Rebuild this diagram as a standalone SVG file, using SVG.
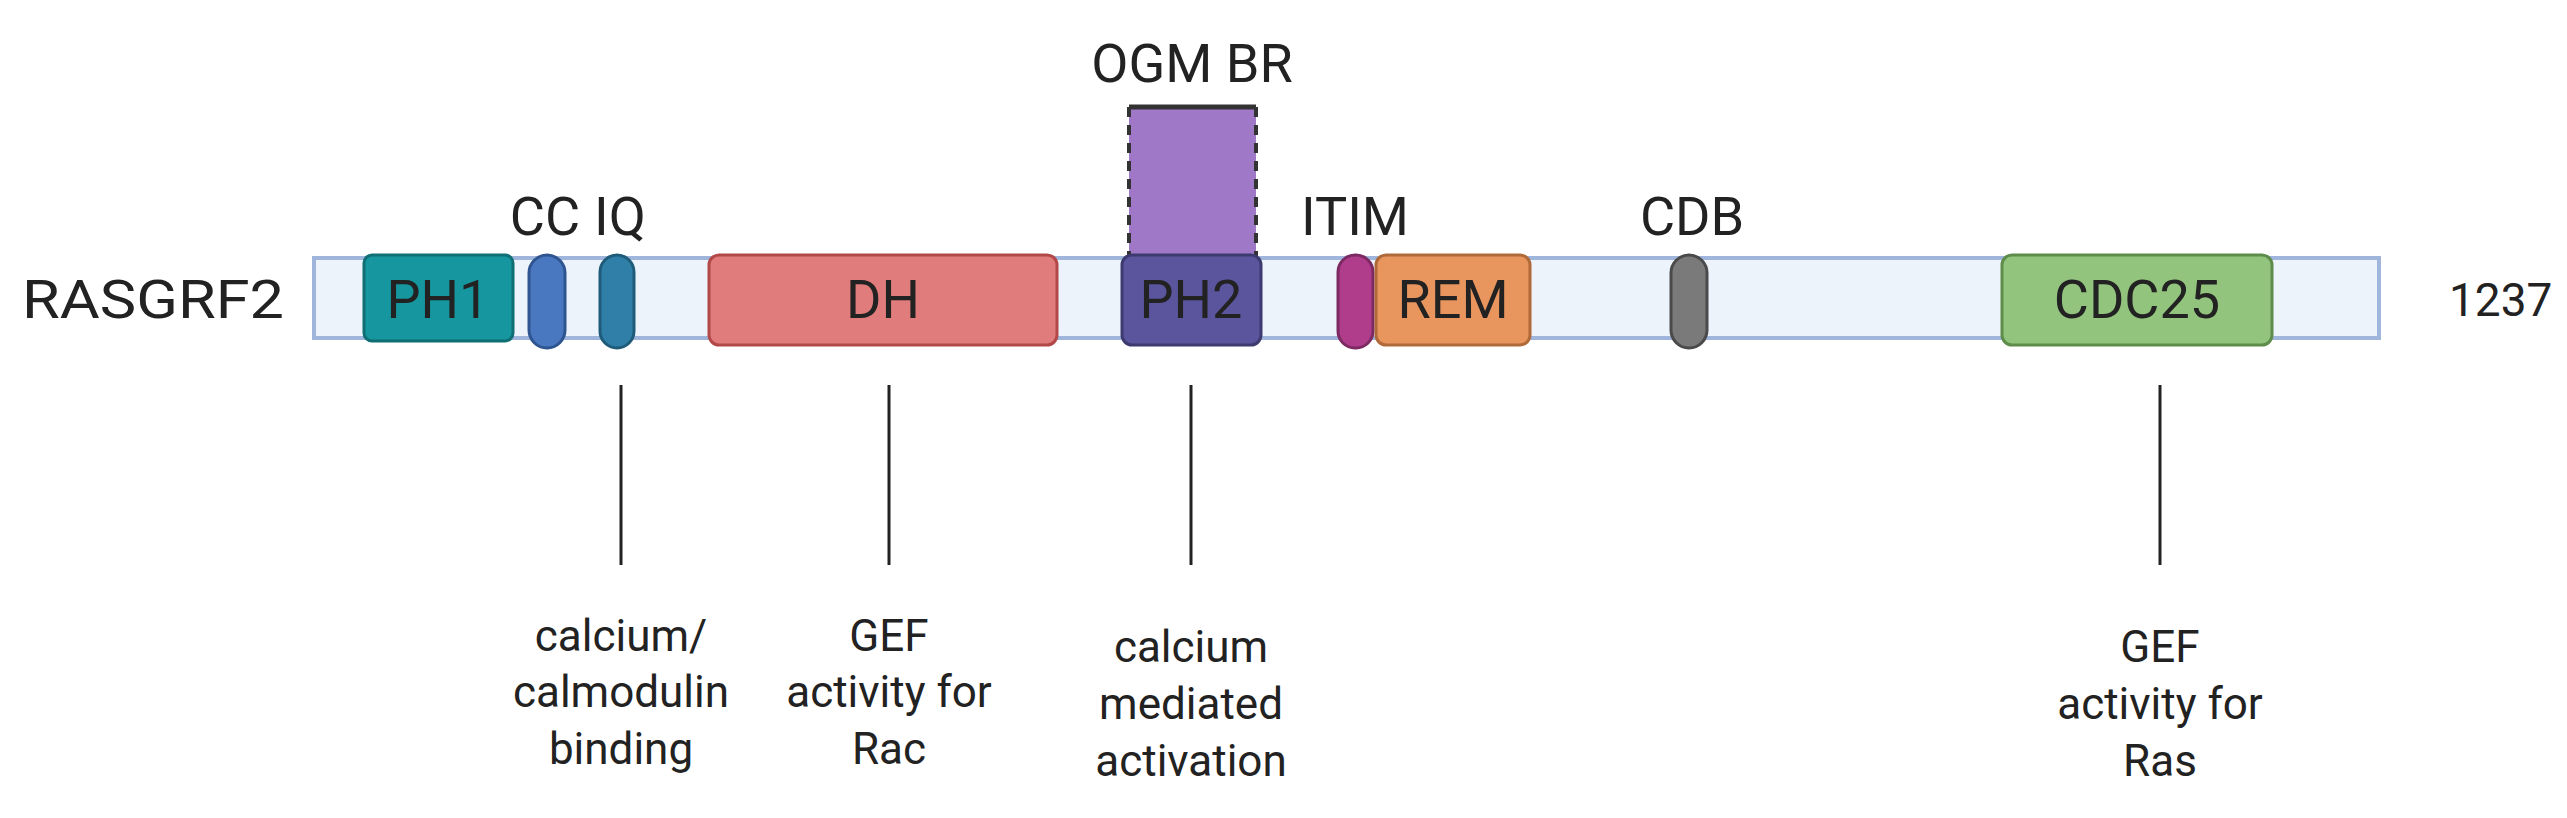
<svg xmlns="http://www.w3.org/2000/svg" width="2567" height="818" viewBox="0 0 2567 818">
<style>
text{font-family:Roboto,"Liberation Sans",sans-serif;font-size:44px;fill:#222}
.c{text-anchor:middle}
.b{font-size:54px}
.d{stroke-width:3}
.ln{stroke:#222;stroke-width:3}
</style>
<rect width="2567" height="818" fill="#fff"/>
<g id="backbone"><rect x="314" y="258" width="2065" height="80" fill="#edf3fb" stroke="#9fb5dc" stroke-width="4"/></g>
<text class="b" x="22" y="318" textLength="262" lengthAdjust="spacingAndGlyphs">RASGRF2</text>
<text x="2449" y="316" style="font-size:46px">1237</text>
<g id="ogmbr"><rect x="1129" y="107" width="127" height="150" fill="#a078c8"/>
<line x1="1129" y1="107" x2="1256" y2="107" stroke="#333" stroke-width="5"/>
<line x1="1129" y1="107" x2="1129" y2="257" stroke="#333" stroke-width="4" stroke-dasharray="10,8"/>
<line x1="1256" y1="107" x2="1256" y2="257" stroke="#333" stroke-width="4" stroke-dasharray="10,8"/>
<text class="c b" x="1192" y="82">OGM BR</text></g>
<g id="ph1"><rect x="364" y="255" width="149" height="86" rx="8" fill="#16979f" stroke="#0f6f75" class="d"/><text class="c b" x="438" y="318">PH1</text></g>
<g id="cc"><rect x="529" y="255" width="36" height="93" rx="18" fill="#4a78c0" stroke="#2f5590" class="d"/><text class="c b" x="545" y="235">CC</text></g>
<g id="iq"><rect x="600" y="255" width="34" height="93" rx="17" fill="#2f7fa8" stroke="#1f5c7a" class="d"/><text class="c b" x="620" y="235">IQ</text></g>
<g id="dh"><rect x="709" y="255" width="348" height="90" rx="10" fill="#e07c7c" stroke="#b24848" class="d"/><text class="c b" x="883" y="318">DH</text></g>
<g id="ph2"><rect x="1122" y="255" width="139" height="90" rx="10" fill="#5a559c" stroke="#3d3a70" class="d"/><text class="c b" x="1191" y="318">PH2</text></g>
<g id="itim"><rect x="1338" y="255" width="35" height="93" rx="17" fill="#b03c8c" stroke="#7d2a63" class="d"/><text class="c b" x="1355" y="235">ITIM</text></g>
<g id="rem"><rect x="1376" y="255" width="154" height="90" rx="10" fill="#e8955e" stroke="#b06a3a" class="d"/><text class="c b" x="1453" y="318">REM</text></g>
<g id="cdb"><rect x="1671" y="255" width="36" height="93" rx="18" fill="#7a7a7a" stroke="#4a4a4a" class="d"/><text class="c b" x="1692" y="235">CDB</text></g>
<g id="cdc25"><rect x="2002" y="255" width="270" height="90" rx="10" fill="#93c47d" stroke="#5e8c4a" class="d"/><text class="c b" x="2137" y="318">CDC25</text></g>
<g id="connectors">
<line class="ln" x1="621" y1="385" x2="621" y2="565"/>
<line class="ln" x1="889" y1="385" x2="889" y2="565"/>
<line class="ln" x1="1191" y1="385" x2="1191" y2="565"/>
<line class="ln" x1="2160" y1="385" x2="2160" y2="565"/>
</g>
<g id="labels">
<text class="c" x="621" y="651">calcium/</text><text class="c" x="621" y="707">calmodulin</text><text class="c" x="621" y="764">binding</text>
<text class="c" x="889" y="651">GEF</text><text class="c" x="889" y="707">activity for</text><text class="c" x="889" y="764">Rac</text>
<text class="c" x="1191" y="662">calcium</text><text class="c" x="1191" y="719">mediated</text><text class="c" x="1191" y="776">activation</text>
<text class="c" x="2160" y="662">GEF</text><text class="c" x="2160" y="719">activity for</text><text class="c" x="2160" y="776">Ras</text>
</g>
</svg>
